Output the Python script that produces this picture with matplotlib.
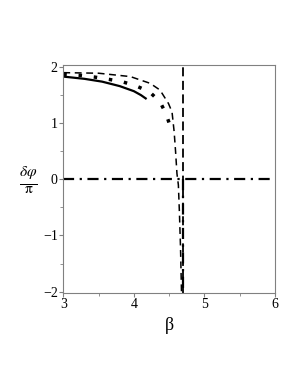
import numpy as np
import matplotlib
matplotlib.use("Agg")
import matplotlib.pyplot as plt
from matplotlib.ticker import MultipleLocator

# ---------- dados ----------
beta_solid = [3.0, 3.3, 3.55, 3.8, 4.0, 4.1, 4.18]
phi_solid = [1.83, 1.79, 1.74, 1.66, 1.57, 1.50, 1.43]

beta_dot = [3.0, 3.25, 3.45, 3.65, 3.83, 4.02, 4.22, 4.37, 4.45, 4.52]
phi_dot = [1.87, 1.85, 1.82, 1.78, 1.74, 1.67, 1.56, 1.38, 1.18, 0.93]

beta_dash = [3.0, 3.5, 3.95, 4.23, 4.37, 4.49, 4.54, 4.57, 4.59, 4.61,
             4.63, 4.645, 4.66, 4.675]
phi_dash = [1.90, 1.89, 1.83, 1.71, 1.59, 1.35, 1.20, 0.85, 0.50, 0.10,
            -0.10, -0.60, -1.20, -2.05]

beta_asym = 4.69

GRAY = "#808080"
plt.rcParams.update({"font.family": "Liberation Serif", "mathtext.fontset": "stix"})

fig = plt.figure(figsize=(3.0, 3.88), dpi=100)
ax = fig.add_axes([0.211, 0.245, 0.706, 0.588])

ax.plot(beta_solid, phi_solid, color="black", lw=1.6, solid_capstyle="butt")
ax.plot(beta_dot, phi_dot, color="black", lw=2.5, ls=(0, (1, 3.4)),
        dash_capstyle="butt")
ax.plot(beta_dash, phi_dash, color="black", lw=1.1, ls=(0, (4.5, 3)))
ax.axvline(beta_asym, color="black", lw=1.3, ls=(0, (5, 2.5)))
# traço-ponto: y = 0 e queda em beta_asym
ax.axhline(0, color="black", lw=1.6, ls=(0, (5, 2.5, 1, 2.5)))
ax.plot([beta_asym, beta_asym], [0, -2.05], color="black", lw=1.6,
        ls=(0, (5, 2.5, 1, 2.5)))

ax.set_xlim(3, 6)
ax.set_ylim(-2.023, 2.04)
ax.xaxis.set_major_locator(MultipleLocator(1))
ax.xaxis.set_minor_locator(MultipleLocator(0.5))
ax.yaxis.set_major_locator(MultipleLocator(1))
ax.yaxis.set_minor_locator(MultipleLocator(0.5))
ax.yaxis.set_major_formatter(plt.FuncFormatter(
    lambda v, p: ("\u2212%d" % abs(v)) if v < 0 else "%d" % v))

for s in ax.spines.values():
    s.set_color(GRAY); s.set_linewidth(0.8)
ax.tick_params(which="major", length=3, width=0.8, color=GRAY,
               labelsize=10, pad=1)
ax.tick_params(which="minor", length=2, width=0.6, color=GRAY)

ax.set_xlabel(r"β", fontsize=13, labelpad=4)
fig.text(0.095, 0.536, r"$\frac{\delta\varphi}{\mathrm{\pi}}$", fontsize=16,
         ha="center", va="center")

fig.savefig("out.png", dpi=100)
